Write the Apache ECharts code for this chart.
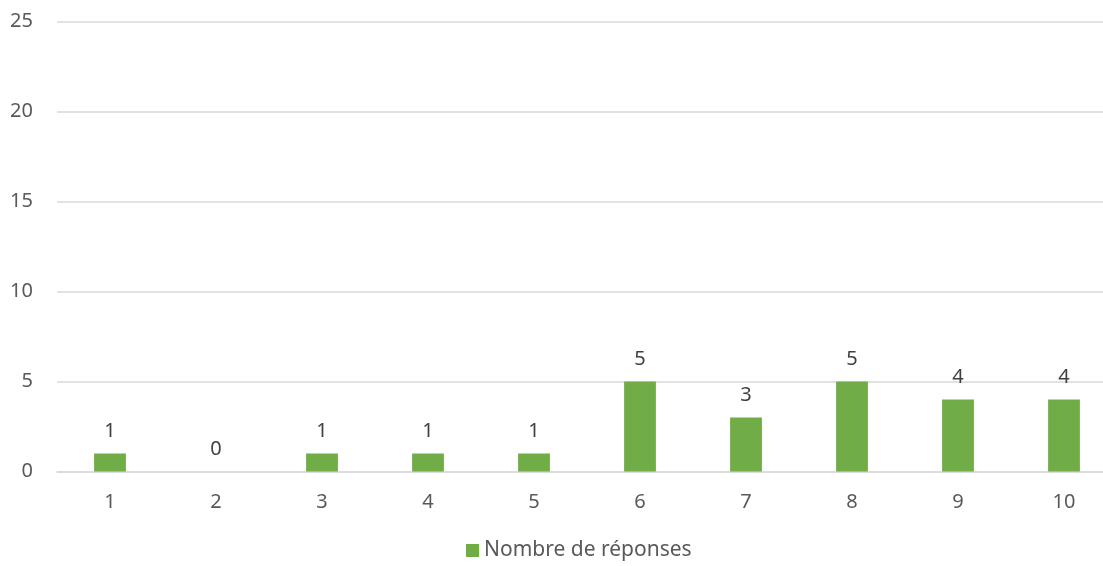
<!DOCTYPE html>
<html><head><meta charset="utf-8">
<script src="https://cdn.jsdelivr.net/npm/echarts@6/dist/echarts.min.js"></script>
<style>html,body{margin:0;padding:0;background:#fff;overflow:hidden;width:1103px;height:566px}#c{width:1117px;height:566px}</style>
</head><body><div id="c"></div>
<script>
const categories = ['1','2','3','4','5','6','7','8','9','10'];
const values = [1,0,1,1,1,5,3,5,4,4];
const seriesName = 'Nombre de réponses';
const yTicks = {min:0, max:25, interval:5};
const chart = echarts.init(document.getElementById('c'));
const font = '"Noto Sans", sans-serif';
chart.setOption({
  animation:false,
  grid:{left:57, top:21.5, right:0, height:450, containLabel:false},
  legend:{bottom:0, left:461, itemWidth:13, itemHeight:13, itemGap:6,
    icon:'rect', textStyle:{color:'#595959', fontSize:21, fontFamily:font}, data:[seriesName]},
  xAxis:{type:'category', data:categories,
    axisLine:{lineStyle:{color:'#D9D9D9', width:1.5}}, axisTick:{show:false},
    axisLabel:{color:'#595959', fontSize:20, fontFamily:font, margin:21}},
  yAxis:{type:'value', min:yTicks.min, max:yTicks.max, interval:yTicks.interval,
    axisLine:{show:false}, axisTick:{show:false},
    splitLine:{lineStyle:{color:'#D9D9D9', width:1.5}},
    axisLabel:{color:'#595959', fontSize:20, fontFamily:font, margin:24}},
  series:[{name:seriesName, type:'bar', data:values, barWidth:'30%',
    itemStyle:{color:'#70AD47'},
    label:{show:true, position:'top', distance:12, color:'#404040', fontSize:20, fontFamily:font}}]
});
</script></body></html>
